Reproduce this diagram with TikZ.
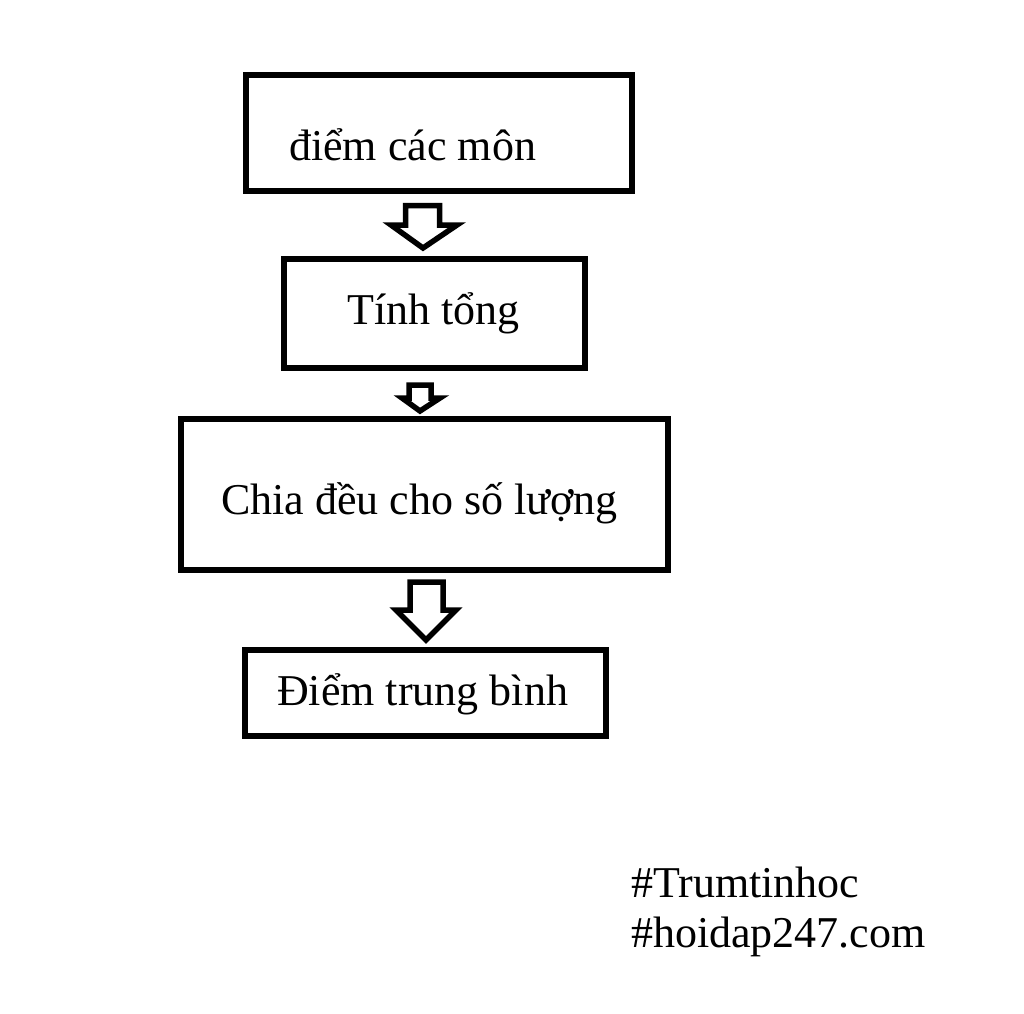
\documentclass[tikz,border=0pt]{standalone}
\usepackage{fontspec}
\setmainfont{Liberation Serif}
\begin{document}
\begin{tikzpicture}[x=1pt,y=-1pt,
  box/.style={draw=black,line width=6pt,rectangle,inner sep=0pt,outer sep=0pt,anchor=north west},
  label/.style={anchor=base west,inner sep=0pt,font=\fontsize{44}{50}\selectfont},
  blockarrow/.style={draw=black,line width=5.5pt,line join=miter,fill=white}]
\useasboundingbox[fill=white] (0,0) rectangle (1024,1013);
% boxes
\node[box,minimum width=386pt,minimum height=116pt] (b1) at (246,75) {};
\node[box,minimum width=301pt,minimum height=109pt] (b2) at (284,259) {};
\node[box,minimum width=487pt,minimum height=151pt] (b3) at (181,419) {};
\node[box,minimum width=361pt,minimum height=86pt] (b4) at (245,650) {};
% texts
\node[label] (t1) at (289,160) {điểm các môn};
\node[label] (t2) at (347,324) {Tính tổng};
\node[label] (t3) at (221,514) {Chia đều cho số lượng};
\node[label] (t4) at (277,705) {Điểm trung bình};
\node[label] (w1) at (631,897) {\#Trumtinhoc};
\node[label] (w2) at (631,947) {\#hoidap247.com};
% block arrows (connectors between boxes)
\draw[blockarrow] (405.5,205.5) -- (439.5,205.5) -- (439.5,225) -- (457,225)
  -- (423,248) -- (391,225) -- (405.5,225) -- cycle;
\draw[blockarrow] (409,385) -- (431,385) -- (431,398) -- (440,398)
  -- (420,411) -- (402,398) -- (409,398) -- cycle;
\draw[blockarrow] (410,582) -- (443,582) -- (443,610) -- (456,610)
  -- (426,640) -- (396,610) -- (410,610) -- cycle;
\end{tikzpicture}
\end{document}
